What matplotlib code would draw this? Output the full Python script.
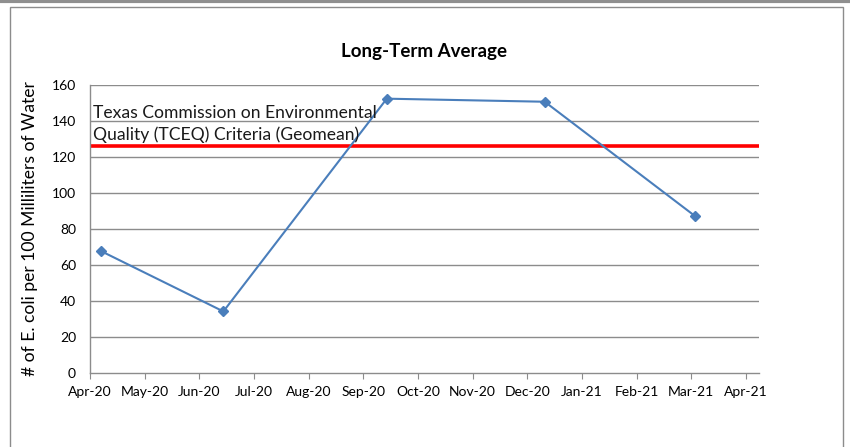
import matplotlib
matplotlib.use("Agg")
import matplotlib.pyplot as plt
from matplotlib.lines import Line2D
from matplotlib.patches import Rectangle

plt.rcParams['font.family'] = ['Lato', 'DejaVu Sans']

# x positions in months counted from 1 Apr 2020
month_labels = ['Apr-20', 'May-20', 'Jun-20', 'Jul-20', 'Aug-20', 'Sep-20', 'Oct-20',
                'Nov-20', 'Dec-20', 'Jan-21', 'Feb-21', 'Mar-21', 'Apr-21']
sample_months = [0.21, 2.44, 5.43, 8.32, 11.06]
ecoli = [67.6, 34.2, 152.4, 150.7, 87.4]
criteria = 126
y_ticks = [0, 20, 40, 60, 80, 100, 120, 140, 160]

W, H = 850, 447
fig = plt.figure(figsize=(W / 100, H / 100), dpi=100)

# chart frame and the gray strip above it
fig.add_artist(Line2D([0, 1], [1 - 1 / H, 1 - 1 / H], color='#8f8f8f', lw=3,
                      transform=fig.transFigure))
fig.add_artist(Rectangle((9.5 / W, -0.05), (843 - 9.5) / W, 1.05 - 7 / H,
                         transform=fig.transFigure, fill=False, ec='#8c8c8c', lw=1.0))

ax = fig.add_axes([90 / W, (H - 373) / H, (759 - 90) / W, (373 - 85) / H])
ax.set_xlim(0, 12.24)
ax.set_ylim(0, 160)

for y in y_ticks[1:]:
    ax.axhline(y, color='#8c8c8c', lw=1.0, zorder=1)

ax.axhline(criteria, color='#ff0000', lw=2.6, zorder=2)
ax.plot(sample_months, ecoli, color='#4a7ebb', lw=1.5, marker='D', ms=5.5,
        markerfacecolor='#4a7ebb', markeredgecolor='#4a7ebb', zorder=3)

ax.text(0.06, 138.3, 'Texas Commission on Environmental\nQuality (TCEQ) Criteria (Geomean)',
        fontsize=12.6, color='#1a1a1a', va='center', ha='left', linespacing=1.38, zorder=4)

ax.set_xticks(range(len(month_labels)))
ax.set_xticklabels(month_labels, fontsize=10)
ax.set_yticks(y_ticks)
ax.set_yticklabels([str(v) for v in y_ticks], fontsize=10)
ax.tick_params(axis='y', length=0, pad=10)
ax.tick_params(axis='x', length=4, color='#8c8c8c', direction='out', pad=5)

for side in ['top', 'right']:
    ax.spines[side].set_visible(False)
for side in ['left', 'bottom']:
    ax.spines[side].set_color('#8c8c8c')
    ax.spines[side].set_linewidth(1.0)

ax.set_ylabel('# of E. coli per 100 Milliliters of Water', fontsize=12.6, labelpad=10)

fig.text(424 / W, 1 - 52 / H, 'Long-Term Average', fontsize=13.5, fontweight='bold',
         ha='center', va='center')

fig.savefig('out.png', dpi=100)
